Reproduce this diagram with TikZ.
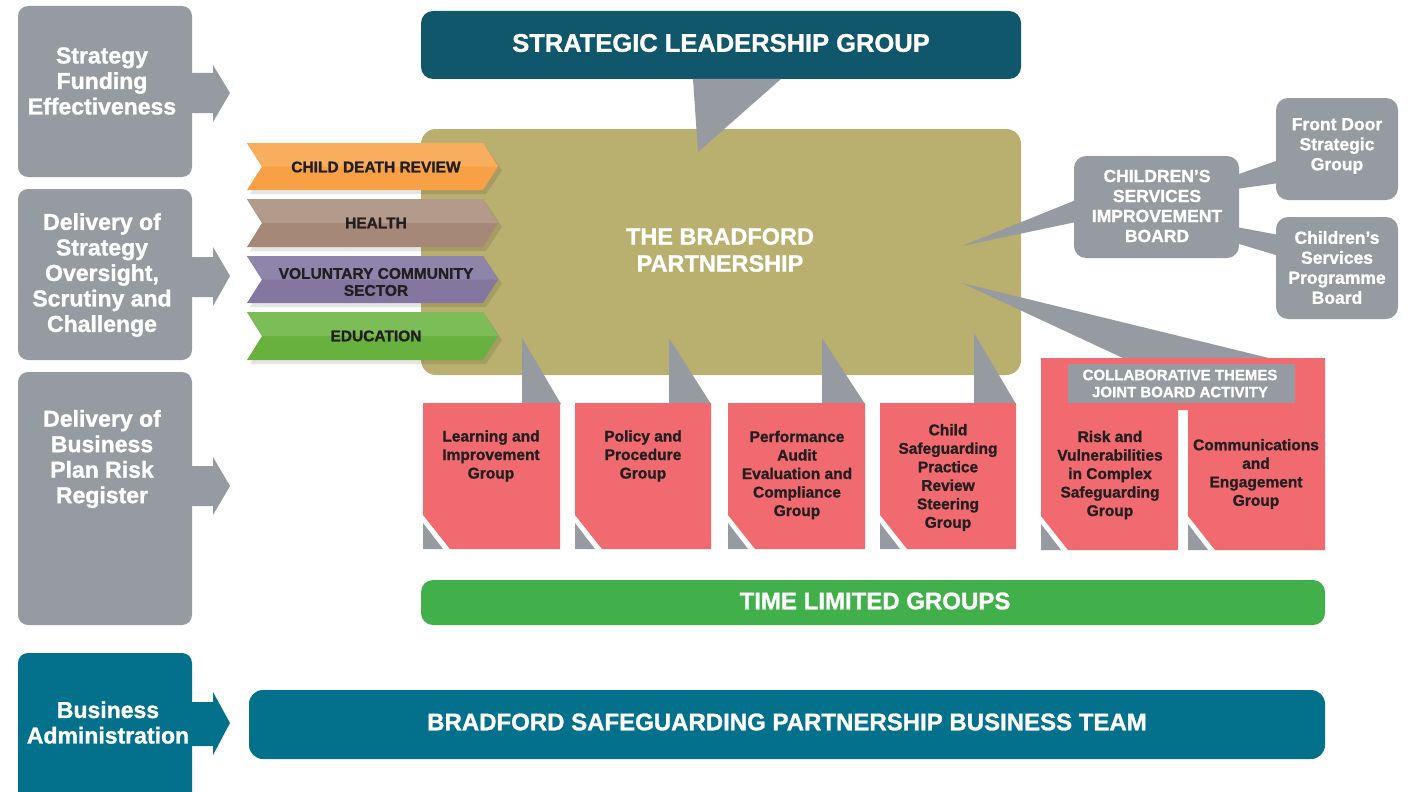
\documentclass[tikz,border=0pt]{standalone}
\usepackage{fontspec}
\setmainfont[BoldFeatures={FakeBold=1.2}]{Liberation Sans}
\usetikzlibrary{calc}
\definecolor{cgray}{HTML}{959BA0}
\definecolor{cdteal}{HTML}{10576B}
\definecolor{cteal}{HTML}{03708C}
\definecolor{colive}{HTML}{B9AF6E}
\definecolor{cred}{HTML}{F06A70}
\definecolor{cgreen}{HTML}{41AF4A}
\definecolor{cdark}{HTML}{231F20}
\definecolor{orD}{HTML}{F7A045}\definecolor{orL}{HTML}{F8AE5E}
\definecolor{brD}{HTML}{A68878}\definecolor{brL}{HTML}{B29B8A}
\definecolor{puD}{HTML}{83769F}\definecolor{puL}{HTML}{8F84AA}
\definecolor{grD}{HTML}{68B13E}\definecolor{grL}{HTML}{7DBD57}
\tikzset{
  boxshape/.style={inner sep=0pt, outer sep=0pt, rounded corners=#1, anchor=north west},
  boxshape/.default=10pt,
  lefttext/.style={text=white, font=\bfseries\fontsize{23pt}{25.5pt}\selectfont, align=center, inner sep=0pt},
  bigtext/.style={text=white, font=\bfseries\fontsize{#1}{#1}\selectfont, align=center, inner sep=0pt},
  chevtext/.style={text=cdark, font=\bfseries\fontsize{15.5pt}{17pt}\selectfont, align=center, inner sep=0pt},
  redtext/.style={text=cdark, font=\bfseries\fontsize{15.5pt}{18.5pt}\selectfont, align=center, inner sep=0pt},
  greytext/.style={text=white, font=\bfseries\fontsize{17.5pt}{20pt}\selectfont, align=center, inner sep=0pt},
  pointer/.style={fill=cgray},
}
\begin{document}
\begin{tikzpicture}[x=1pt,y=-1pt]
\useasboundingbox (0,0) rectangle (1411,792);
\fill[white] (0,0) rectangle (1411,792);

% ---------- left column ----------
\node[boxshape, fill=cgray, minimum width=174pt, minimum height=171pt] (L1) at (18,6) {};
\fill[cgray] (190,73) -- (213,73) -- (213,65) -- (230,93) -- (213,122) -- (213,113) -- (190,113) -- cycle;
\node[lefttext] (L1t) at (102,81) {Strategy\\Funding\\Effectiveness};

\node[boxshape, fill=cgray, minimum width=174pt, minimum height=171pt] (L2) at (18,189) {};
\fill[cgray] (190,257) -- (213,257) -- (213,247) -- (230,276) -- (213,306) -- (213,297) -- (190,297) -- cycle;
\node[lefttext] (L2t) at (102,275) {Delivery of\\Strategy\\Oversight,\\Scrutiny and\\Challenge};

\node[boxshape, fill=cgray, minimum width=174pt, minimum height=253pt] (L3) at (18,372) {};
\fill[cgray] (190,466) -- (213,466) -- (213,457) -- (230,486) -- (213,515) -- (213,506) -- (190,506) -- cycle;
\node[lefttext] (L3t) at (102,459) {Delivery of\\Business\\Plan Risk\\Register};

\node[boxshape, fill=cteal, minimum width=174pt, minimum height=170pt] (L4) at (18,653) {};
\fill[cteal] (190,702) -- (213,702) -- (213,692) -- (230,723) -- (213,755) -- (213,746) -- (190,746) -- cycle;
\node[lefttext] (L4t) at (108,722.5) {Business\\Administration};

% ---------- strategic leadership group ----------
\node[boxshape=12pt, fill=cdteal, minimum width=600pt, minimum height=68pt] (slg) at (421,11) {};
\node[bigtext=25.5pt] (slgt) at (721,43) {STRATEGIC LEADERSHIP GROUP};

% ---------- Bradford partnership ----------
\node[boxshape=15pt, fill=colive, minimum width=600pt, minimum height=246pt] (bp) at (421,129) {};
\node[bigtext=23.5pt, font=\bfseries\fontsize{23.5pt}{27pt}\selectfont] (bpt) at (720,250) {THE BRADFORD\\PARTNERSHIP};
\fill[pointer] (693,79) -- (781,79) -- (698,152) -- cycle;

% ---------- chevrons ----------
\foreach \t/\b/\cd/\cl in {143/190/orD/orL, 199/247/brD/brL, 256/303/puD/puL, 312/360/grD/grL} {
  \pgfmathsetmacro\m{(\t+\b)/2}
  \fill[black, opacity=.10] (250,\t+4) -- (486,\t+4) -- (502,\m+4) -- (486,\b+4) -- (250,\b+4) -- (265,\m+4) -- cycle;
  \fill[\cd] (247,\t) -- (483,\t) -- (498,\m) -- (483,\b) -- (247,\b) -- (262,\m) -- cycle;
  \fill[\cl] (247,\t) -- (483,\t) -- (498,\m) -- (262,\m) -- cycle;
}
\node[chevtext] (cdr) at (376,167) {CHILD DEATH REVIEW};
\node[chevtext] (hea) at (376,223) {HEALTH};
\node[chevtext] (vcs) at (376,282) {VOLUNTARY COMMUNITY\\SECTOR};
\node[chevtext] (edu) at (376,336) {EDUCATION};

% ---------- right: children's services ----------
\fill[pointer] (1076,200) -- (1076,222) -- (962,246) -- cycle;
\fill[cgray] (1236,175) -- (1279,160) -- (1279,183) -- (1236,189) -- cycle;
\fill[cgray] (1236,227) -- (1279,235) -- (1279,256) -- (1236,243) -- cycle;
\node[boxshape=12pt, fill=cgray, minimum width=165pt, minimum height=102pt] (csib) at (1074,156) {};
\node[greytext] (csibt) at (1157,206) {CHILDREN’S\\SERVICES\\IMPROVEMENT\\BOARD};
\node[boxshape=12pt, fill=cgray, minimum width=122pt, minimum height=102pt] (fdsg) at (1276,98) {};
\node[greytext] (fdsgt) at (1337,146) {Front Door\\Strategic\\Group};
\node[boxshape=12pt, fill=cgray, minimum width=122pt, minimum height=102pt] (cspb) at (1276,217) {};
\node[greytext] (cspbt) at (1337,267.5) {Children’s\\Services\\Programme\\Board};

% ---------- pointers to groups ----------
\fill[pointer] (962,283) -- (1273,359) -- (1125,359) -- cycle;
\fill[pointer] (522,338) -- (561,404) -- (522,404) -- cycle;
\fill[pointer] (669,338) -- (711,404) -- (669,404) -- cycle;
\fill[pointer] (822,338) -- (865,404) -- (822,404) -- cycle;
\fill[pointer] (974,333) -- (1016,404) -- (974,404) -- cycle;

% ---------- red group boxes ----------
\foreach \xa/\xb in {423/560, 575/711, 728/865, 880/1016} {
  \fill[cred] (\xa,403) -- (\xb,403) -- (\xb,549) -- (\xa+27,549) -- (\xa,515) -- cycle;
  \fill[cgray] (\xa,523) -- (\xa+20,549) -- (\xa,549) -- cycle;
}
\fill[cred] (1041,358) -- (1325,358) -- (1325,550) -- (1215,550) -- (1188,516) -- (1188,410) -- (1178,410)
  -- (1178,550) -- (1068,550) -- (1041,516) -- cycle;
\fill[cgray] (1041,524) -- (1061,550) -- (1041,550) -- cycle;
\fill[cgray] (1188,524) -- (1208,550) -- (1188,550) -- cycle;
\node[boxshape=0pt, fill=cgray, minimum width=227pt, minimum height=39pt] (collab) at (1068,364) {};
\node[bigtext=15pt, font=\bfseries\fontsize{15pt}{17pt}\selectfont] (collabt) at (1180,383.5) {COLLABORATIVE THEMES\\JOINT BOARD ACTIVITY};

\node[redtext] (g1) at (491,456) {Learning and\\Improvement\\Group};
\node[redtext] (g2) at (643,456) {Policy and\\Procedure\\Group};
\node[redtext] (g3) at (797,475) {Performance\\Audit\\Evaluation and\\Compliance\\Group};
\node[redtext] (g4) at (948,477.5) {Child\\Safeguarding\\Practice\\Review\\Steering\\Group};
\node[redtext] (g5) at (1110,475) {Risk and\\Vulnerabilities\\in Complex\\Safeguarding\\Group};
\node[redtext] (g6) at (1256,474) {Communications\\and\\Engagement\\Group};

% ---------- time limited groups ----------
\node[boxshape=12pt, fill=cgreen, minimum width=904pt, minimum height=45pt] (tlg) at (421,580) {};
\node[bigtext=24pt] (tlgt) at (875,601) {TIME LIMITED GROUPS};

% ---------- business team ----------
\node[boxshape=14pt, fill=cteal, minimum width=1076pt, minimum height=69pt] (bst) at (249,690) {};
\node[bigtext=24pt] (bstt) at (787,722) {BRADFORD SAFEGUARDING PARTNERSHIP BUSINESS TEAM};
\end{tikzpicture}
\end{document}
